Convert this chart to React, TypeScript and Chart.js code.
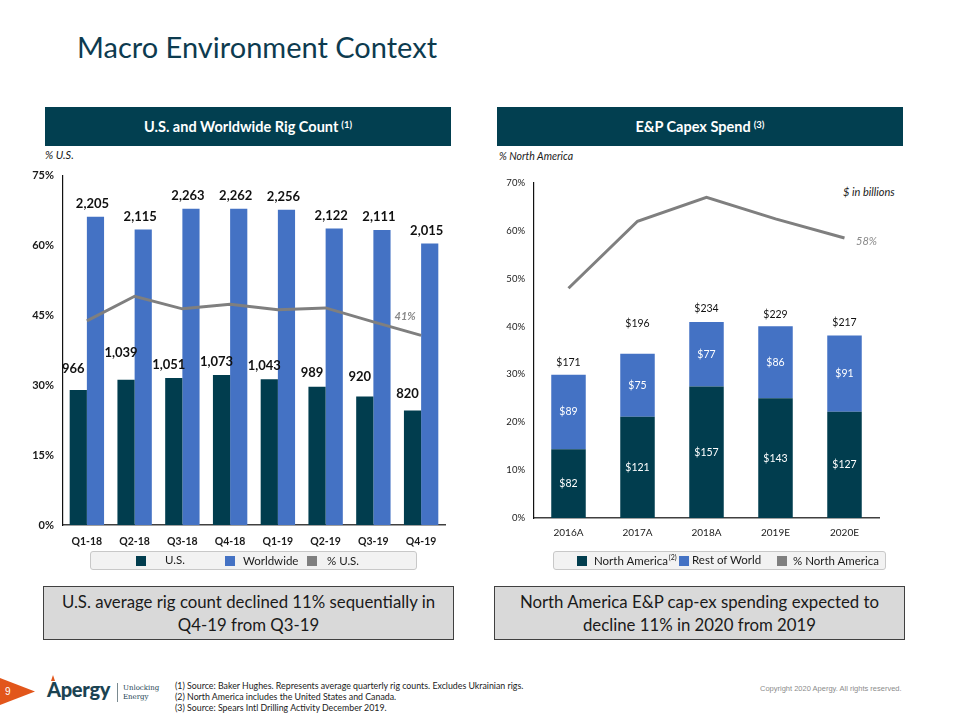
import React, { useEffect, useRef } from "react";
import { Chart, registerables } from "chart.js";

Chart.register(...registerables);

// ---------- Data ----------
const RIG_QUARTERS = ["Q1-18", "Q2-18", "Q3-18", "Q4-18", "Q1-19", "Q2-19", "Q3-19", "Q4-19"];
const US_RIGS = [966, 1039, 1051, 1073, 1043, 989, 920, 820];
const WORLD_RIGS = [2205, 2115, 2263, 2262, 2256, 2122, 2111, 2015];
const US_SHARE = [43.8, 49.1, 46.4, 47.4, 46.2, 46.6, 43.6, 40.7];
const RIG_PCT_TICKS = [0, 15, 30, 45, 60, 75];

const CAPEX_YEARS = ["2016A", "2017A", "2018A", "2019E", "2020E"];
const NA_CAPEX = [82, 121, 157, 143, 127];
const ROW_CAPEX = [89, 75, 77, 86, 91];
const CAPEX_TOTALS = [171, 196, 234, 229, 217];
const NA_SHARE = [48, 62, 67, 62.5, 58.5];
const CAPEX_PCT_TICKS = [0, 10, 20, 30, 40, 50, 60, 70];

// ---------- Styles ----------
const DARK = "#013d4e";
const BLUE = "#4472c4";
const GRAY = "#7f7f7f";
const FONT = "Lato, 'Open Sans', sans-serif";
const US_LABEL_LIFT = [21, 27, 13, 13, 13, 14, 20, 17];
const TOTAL_LABEL_LIFT = [12, 30, 13, 12, 13];

const fmt = (v: number) => v.toLocaleString("en-US");

function RigChart() {
  const ref = useRef<HTMLCanvasElement | null>(null);
  useEffect(() => {
    if (!ref.current) return;
    const labelsPlugin = {
      id: "rigLabels",
      afterDatasetsDraw(chart: any) {
        const ctx = chart.ctx;
        ctx.save();
        ctx.textAlign = "center";
        ctx.textBaseline = "middle";
        ctx.fillStyle = "#111111";
        ctx.font = `bold 13px ${FONT}`;
        chart.getDatasetMeta(0).data.forEach((el: any, i: number) => {
          ctx.fillText(fmt(chart.data.datasets[0].data[i]), el.x - 5, el.y - US_LABEL_LIFT[i]);
        });
        chart.getDatasetMeta(1).data.forEach((el: any, i: number) => {
          ctx.fillText(fmt(chart.data.datasets[1].data[i]), el.x - 3, el.y - 13);
        });
        const pts = chart.getDatasetMeta(2).data;
        const n = pts.length - 1;
        ctx.font = `italic bold 11px ${FONT}`;
        ctx.fillStyle = "#8a8a8a";
        ctx.fillText(Math.round(chart.data.datasets[2].data[n]) + "%", pts[n].x - 16, pts[n].y - 19);
        ctx.restore();
      },
    };
    const chart = new Chart(ref.current, {
      type: "bar",
      data: {
        labels: RIG_QUARTERS,
        datasets: [
          { type: "bar", label: "U.S.", data: US_RIGS, backgroundColor: DARK, yAxisID: "yBars", order: 1 },
          { type: "bar", label: "Worldwide", data: WORLD_RIGS, backgroundColor: BLUE, yAxisID: "yBars", order: 1 },
          {
            type: "line",
            label: "% U.S.",
            data: US_SHARE,
            borderColor: GRAY,
            borderWidth: 3,
            pointRadius: 0,
            yAxisID: "y",
            order: 0,
          },
        ],
      } as any,
      options: {
        responsive: false,
        animation: false,
        devicePixelRatio: 1,
        layout: { padding: { top: 12, right: 10, left: 0, bottom: 0 } },
        datasets: { bar: { categoryPercentage: 0.72, barPercentage: 1 } },
        plugins: { legend: { display: false }, tooltip: { enabled: false } },
        scales: {
          x: {
            grid: { display: false, drawTicks: false },
            border: { display: true, color: "#404040", width: 1.5 },
            ticks: { font: { family: FONT, size: 10.5, weight: "bold" }, color: "#1a1a1a", padding: 10 },
            afterFit: (s: any) => {
              s.height = 30;
            },
          },
          y: {
            position: "left",
            min: 0,
            max: 75,
            afterBuildTicks: (s: any) => {
              s.ticks = RIG_PCT_TICKS.map((v) => ({ value: v }));
            },
            grid: { display: false, drawTicks: false },
            border: { display: true, color: "#111111", width: 1.2 },
            ticks: {
              callback: (v: any) => v + "%",
              font: { family: FONT, size: 11, weight: "bold" },
              color: "#1a1a1a",
              padding: 9,
            },
            afterFit: (s: any) => {
              s.width = 43;
            },
          },
          yBars: { display: false, min: 0, max: 2500 },
        },
      } as any,
      plugins: [labelsPlugin],
    });
    return () => chart.destroy();
  }, []);
  return (
    <canvas
      ref={ref}
      width={435}
      height={395}
      style={{ position: "absolute", left: 20, top: 160, width: 435, height: 395 }}
    />
  );
}

function CapexChart() {
  const ref = useRef<HTMLCanvasElement | null>(null);
  useEffect(() => {
    if (!ref.current) return;
    const labelsPlugin = {
      id: "capexLabels",
      afterDatasetsDraw(chart: any) {
        const ctx = chart.ctx;
        ctx.save();
        ctx.textAlign = "center";
        ctx.textBaseline = "middle";
        ctx.font = `10.5px ${FONT}`;
        ctx.fillStyle = "#ffffff";
        [0, 1].forEach((d) => {
          chart.getDatasetMeta(d).data.forEach((el: any, i: number) => {
            ctx.fillText("$" + chart.data.datasets[d].data[i], el.x, (el.y + el.base) / 2);
          });
        });
        ctx.fillStyle = "#111111";
        chart.getDatasetMeta(1).data.forEach((el: any, i: number) => {
          ctx.fillText("$" + CAPEX_TOTALS[i], el.x, el.y - TOTAL_LABEL_LIFT[i]);
        });
        const pts = chart.getDatasetMeta(2).data;
        const n = pts.length - 1;
        ctx.font = `italic 11px ${FONT}`;
        ctx.fillStyle = "#8a8a8a";
        ctx.fillText(Math.floor(chart.data.datasets[2].data[n]) + "%", pts[n].x + 22, pts[n].y + 3);
        ctx.restore();
      },
    };
    const chart = new Chart(ref.current, {
      type: "bar",
      data: {
        labels: CAPEX_YEARS,
        datasets: [
          { type: "bar", label: "North America", data: NA_CAPEX, backgroundColor: DARK, yAxisID: "yBars", stack: "s", order: 1 },
          { type: "bar", label: "Rest of World", data: ROW_CAPEX, backgroundColor: BLUE, yAxisID: "yBars", stack: "s", order: 1 },
          {
            type: "line",
            label: "% North America",
            data: NA_SHARE,
            borderColor: GRAY,
            borderWidth: 3,
            pointRadius: 0,
            yAxisID: "y",
            order: 0,
          },
        ],
      } as any,
      options: {
        responsive: false,
        animation: false,
        devicePixelRatio: 1,
        layout: { padding: { top: 18, right: 11, left: 0, bottom: 0 } },
        datasets: { bar: { categoryPercentage: 1, barPercentage: 0.5 } },
        plugins: { legend: { display: false }, tooltip: { enabled: false } },
        scales: {
          x: {
            stacked: true,
            grid: { display: false, drawTicks: false },
            border: { display: true, color: "#404040", width: 1.5 },
            ticks: { font: { family: FONT, size: 10 }, color: "#1a1a1a", padding: 9 },
            afterFit: (s: any) => {
              s.height = 22;
            },
          },
          y: {
            position: "left",
            min: 0,
            max: 70,
            afterBuildTicks: (s: any) => {
              s.ticks = CAPEX_PCT_TICKS.map((v) => ({ value: v }));
            },
            grid: { display: false, drawTicks: false },
            border: { display: true, color: "#111111", width: 1.2 },
            ticks: {
              callback: (v: any) => v + "%",
              font: { family: FONT, size: 9.5 },
              color: "#1a1a1a",
              padding: 9,
            },
            afterFit: (s: any) => {
              s.width = 44;
            },
          },
          yBars: { display: false, stacked: true, min: 0, max: 400 },
        },
      } as any,
      plugins: [labelsPlugin],
    });
    return () => chart.destroy();
  }, []);
  return (
    <canvas
      ref={ref}
      width={400}
      height={375}
      style={{ position: "absolute", left: 490, top: 165, width: 400, height: 375 }}
    />
  );
}

const abs = (s: React.CSSProperties): React.CSSProperties => ({ position: "absolute", ...s });

function Header({ left, text, note }: { left: number; text: string; note: string }) {
  return (
    <div
      style={abs({
        left,
        top: 107,
        width: 406,
        height: 39,
        background: "#023f50",
        color: "#fff",
        fontFamily: FONT,
        fontWeight: 700,
        fontSize: 14.5,
        display: "flex",
        alignItems: "center",
        justifyContent: "center",
      })}
    >
      {text}
      <sup style={{ fontSize: 9.5, marginLeft: 3, position: "relative", top: -2 }}>{note}</sup>
    </div>
  );
}

function Swatch({ left, top, color }: { left: number; top: number; color: string }) {
  return <div style={abs({ left, top, width: 10, height: 10, background: color })} />;
}

function LegendText({ left, top, children }: { left: number; top: number; children: React.ReactNode }) {
  return (
    <div style={abs({ left, top, fontFamily: FONT, fontSize: 11.5, color: "#1a1a1a", lineHeight: "14px", whiteSpace: "nowrap" })}>
      {children}
    </div>
  );
}

function Callout({ left, lines }: { left: number; lines: string[] }) {
  return (
    <div
      style={abs({
        left,
        top: 586,
        width: 411,
        height: 54,
        boxSizing: "border-box",
        background: "#d9d9d9",
        border: "1px solid #404040",
        fontFamily: FONT,
        fontSize: 16.8,
        color: "#1a1a1a",
        lineHeight: "23px",
        textAlign: "center",
        display: "flex",
        flexDirection: "column",
        justifyContent: "center",
      })}
    >
      {lines.map((l) => (
        <div key={l}>{l}</div>
      ))}
    </div>
  );
}

export default function App() {
  return (
    <div style={abs({ left: 0, top: 0, width: 960, height: 720, background: "#fff", overflow: "hidden", fontFamily: FONT })}>
      <div style={abs({ left: 77, top: 29, fontSize: 29, color: "#0d3b4f", lineHeight: "36px", whiteSpace: "nowrap" })}>
        Macro Environment Context
      </div>

      <Header left={45} text="U.S. and Worldwide Rig Count" note="(1)" />
      <Header left={497} text="E&P Capex Spend" note="(3)" />

      <div style={abs({ left: 45, top: 148, fontSize: 11, fontStyle: "italic", color: "#1a1a1a", lineHeight: "14px" })}>% U.S.</div>
      <div style={abs({ left: 499, top: 149, fontSize: 10.5, fontStyle: "italic", color: "#1a1a1a", lineHeight: "14px" })}>
        % North America
      </div>
      <div style={abs({ left: 843, top: 184, fontSize: 11, fontStyle: "italic", color: "#1a1a1a", lineHeight: "16px", whiteSpace: "nowrap" })}>
        $ in billions
      </div>

      <RigChart />
      <CapexChart />

      {/* Left legend */}
      <div style={abs({ left: 90, top: 551, width: 327, height: 19, boxSizing: "border-box", background: "#f2f2f2", border: "1px solid #c8c8c8", borderRadius: 3 })} />
      <Swatch left={136} top={556} color={DARK} />
      <LegendText left={165} top={553}>U.S.</LegendText>
      <Swatch left={225} top={556} color={BLUE} />
      <LegendText left={243} top={554}>Worldwide</LegendText>
      <Swatch left={307} top={556} color={GRAY} />
      <LegendText left={327} top={554}>% U.S.</LegendText>

      {/* Right legend */}
      <div style={abs({ left: 553, top: 551, width: 333, height: 19, boxSizing: "border-box", background: "#f2f2f2", border: "1px solid #c8c8c8", borderRadius: 3 })} />
      <Swatch left={577} top={556} color={DARK} />
      <LegendText left={594} top={554}>
        North America
        <span style={{ fontSize: 7, position: "relative", top: -5, marginLeft: 1, lineHeight: 0 }}>(2)</span>
      </LegendText>
      <Swatch left={679} top={556} color={BLUE} />
      <LegendText left={692} top={553}>Rest of World</LegendText>
      <Swatch left={777} top={556} color={GRAY} />
      <LegendText left={793} top={554}>% North America</LegendText>

      <Callout left={43} lines={["U.S. average rig count declined 11% sequentially in", "Q4-19 from Q3-19"]} />
      <Callout left={494} lines={["North America E&P cap-ex spending expected to", "decline 11% in 2020 from 2019"]} />

      {/* Footer */}
      <div style={abs({ left: 0, top: 678, width: 35, height: 27, background: "#e2561b", clipPath: "polygon(0 0, 100% 50%, 0 100%)" })} />
      <div style={abs({ left: 5, top: 685, fontSize: 10, color: "#fff", fontFamily: "'Liberation Sans', Arial, sans-serif", lineHeight: "14px" })}>9</div>

      <div style={abs({ left: 51, top: 675, width: 0, height: 0, borderLeft: "2.5px solid transparent", borderRight: "2.5px solid transparent", borderBottom: "6px solid #e2561b" })} />
      <div style={abs({ left: 47, top: 677, fontSize: 20, fontWeight: 900, color: "#1b4352", lineHeight: "24px", letterSpacing: -0.3, whiteSpace: "nowrap" })}>
        Apergy
      </div>
      <div style={abs({ left: 117, top: 683, width: 1, height: 19, background: "#7a8a90" })} />
      <div style={abs({ left: 123, top: 684, fontSize: 7, color: "#1b4352", fontFamily: "'DejaVu Serif', serif", lineHeight: "8.5px", whiteSpace: "nowrap" })}>
        Unlocking
        <br />
        Energy
      </div>

      <div style={abs({ left: 175, top: 680, fontSize: 8.8, color: "#1a1a1a", lineHeight: "11px", whiteSpace: "nowrap" })}>
        <div>(1) Source: Baker Hughes. Represents average quarterly rig counts. Excludes Ukrainian rigs.</div>
        <div>(2) North America includes the United States and Canada.</div>
        <div>(3) Source: Spears Intl Drilling Activity December 2019.</div>
      </div>
      <div style={abs({ left: 760, top: 684, fontSize: 7.5, color: "#8c8c8c", fontFamily: "'Liberation Sans', Arial, sans-serif", lineHeight: "10px", whiteSpace: "nowrap" })}>
        Copyright 2020 Apergy. All rights reserved.
      </div>
    </div>
  );
}
